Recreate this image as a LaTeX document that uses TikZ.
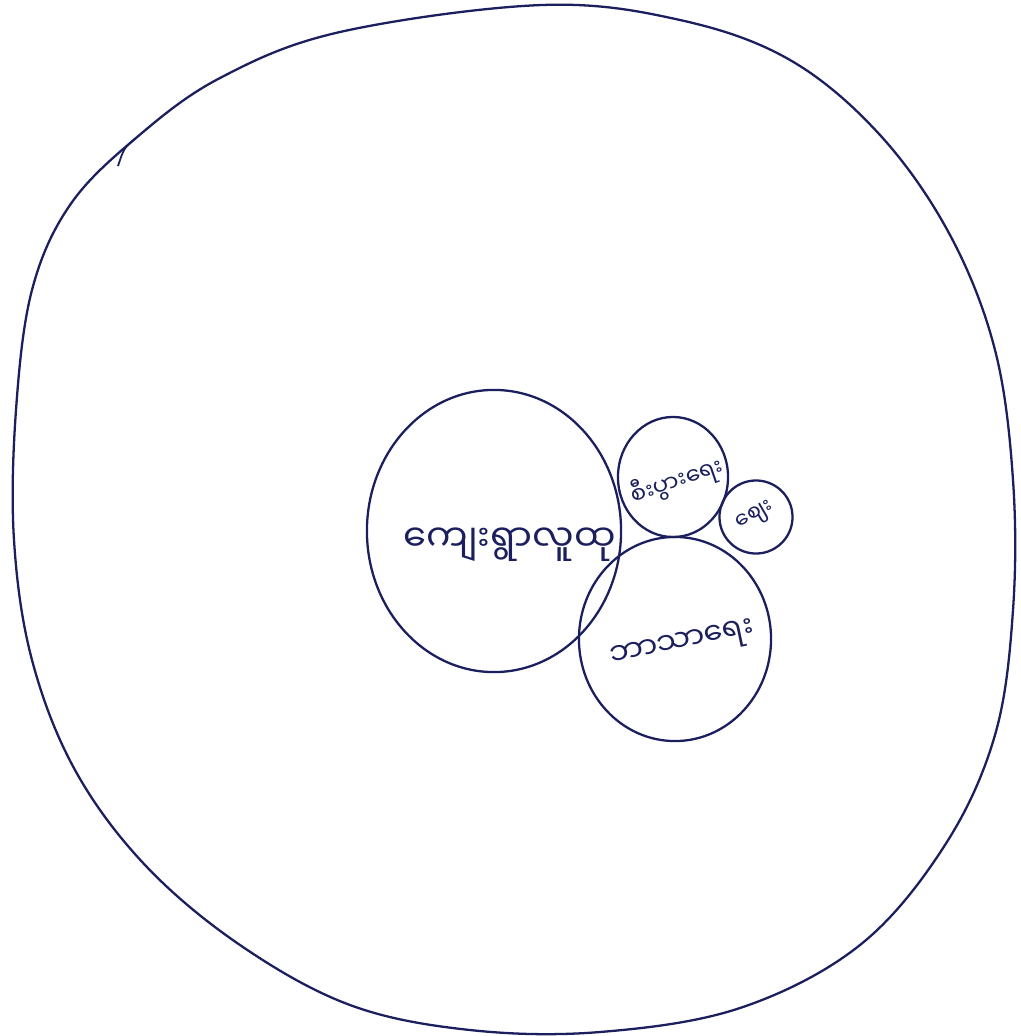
\documentclass[tikz,border=0pt]{standalone}
\usepackage{fontspec}
\newfontfamily\myanmar[Script=Myanmar]{Noto Sans Myanmar UI}
\usepackage{tikz}
\usetikzlibrary{shapes.geometric, positioning}
\definecolor{ink}{HTML}{1B1F5E}
\tikzstyle{bubble} = [ellipse, draw=ink, line width=0.65pt, inner sep=0pt]
\tikzstyle{tag}    = [text=ink, inner sep=0pt]
\tikzstyle{rim}    = [draw=ink, line width=0.65pt]

\begin{document}
\begin{tikzpicture}[x=0.01cm, y=-0.01cm]
  \useasboundingbox (0,0) rectangle (1020,1036);

  % outer boundary
  \draw[rim] plot[smooth cycle, tension=0.6] coordinates {
    (542,5) (680,20) (790,60) (880,135) (950,235) (995,350) (1013,480)
    (1013,610) (995,735) (945,845) (860,945) (740,1008) (600,1032)
    (470,1030) (350,1005) (240,945) (145,865) (75,770) (32,660) (14,540)
    (16,410) (32,290) (70,205) (136,138) (220,78) (340,32)};
  \draw[rim, line width=0.5pt] (136,138) .. controls (124,148) .. (118,166);

  % circles
  \node[bubble, minimum width=2.54cm, minimum height=2.82cm] (village) at (494,531) {};
  \node[bubble, minimum width=1.10cm, minimum height=1.20cm] (economy) at (673,477) {};
  \node[bubble, minimum width=1.92cm, minimum height=2.04cm] (religion) at (675,639) {};
  % small one carries its own label
  \node[bubble, rotate=30, text=ink, minimum width=0.73cm, minimum height=0.73cm,
        font=\myanmar\fontsize{6.2}{7}\selectfont] (market) at (756,517) {ဈေး};

  % labels
  \node[tag, font=\myanmar\fontsize{10.5}{12}\selectfont] (villagetxt) at (510,545) {ကျေးရွာလူထု};
  \node[tag, rotate=19, font=\myanmar\fontsize{6.6}{8}\selectfont] (economytxt) at (677,481) {စီးပွားရေး};
  \node[tag, rotate=12, font=\myanmar\fontsize{8.6}{10}\selectfont] (religiontxt) at (683,646) {ဘာသာရေး};
\end{tikzpicture}
\end{document}
